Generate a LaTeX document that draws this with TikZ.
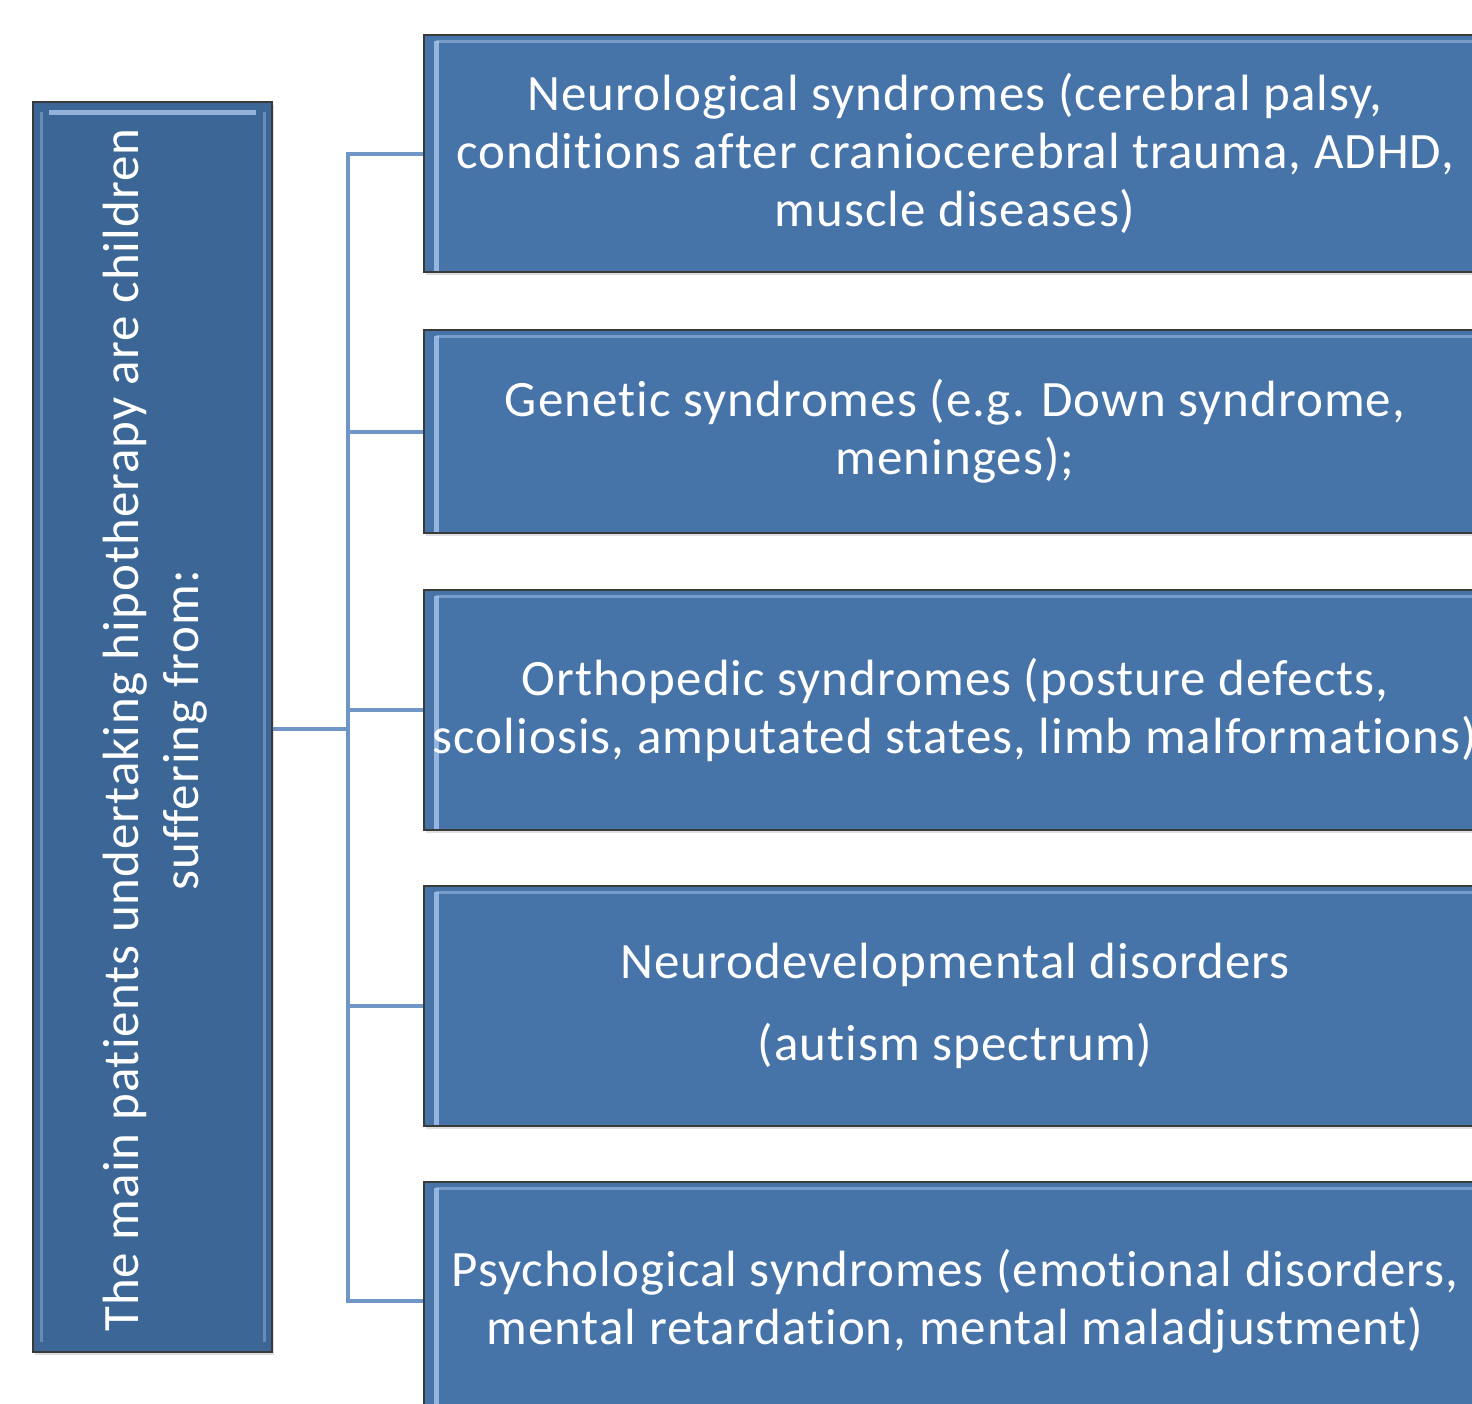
\documentclass[tikz,border=0pt]{standalone}
\usepackage{fontspec}
\setmainfont{Carlito}[LetterSpace=2, RawFeature={-liga}]
\usetikzlibrary{shadows}
\definecolor{boxblue}{HTML}{4673A8}
\definecolor{leftblue}{HTML}{3C6696}
\definecolor{linkblue}{HTML}{7096C8}
\definecolor{edgegray}{HTML}{3A3A3A}
\definecolor{hilite}{HTML}{A9C6EC}
\tikzset{
  bluebox/.style={draw=edgegray, line width=0.8pt, fill=boxblue, text=white,
    minimum width=531pt, inner sep=0pt, align=center,
    font=\fontsize{25.5}{29}\selectfont,
    drop shadow={opacity=0.25, shadow xshift=1pt, shadow yshift=-1.5pt},
    path picture={
      \draw[hilite, line width=2.5pt, opacity=0.8]
        ([xshift=6pt,yshift=-4pt]path picture bounding box.south west) --
        ([xshift=6pt,yshift=-3pt]path picture bounding box.north west);
      \draw[hilite, line width=1.5pt, opacity=0.5]
        ([xshift=6pt,yshift=-3pt]path picture bounding box.north west) --
        ([xshift=-6pt,yshift=-3pt]path picture bounding box.north east);
    }},
  leftbox/.style={draw=edgegray, line width=0.8pt, fill=leftblue, text=white,
    minimum width=119.5pt, minimum height=625pt, inner sep=0pt,
    drop shadow={opacity=0.25, shadow xshift=1pt, shadow yshift=-1.5pt},
    path picture={
      \draw[hilite, line width=2.5pt, opacity=0.8]
        ([xshift=8pt,yshift=-5pt]path picture bounding box.north west) --
        ([xshift=-8pt,yshift=-5pt]path picture bounding box.north east);
      \draw[hilite, line width=1.5pt, opacity=0.4]
        ([xshift=4pt,yshift=-5pt]path picture bounding box.north west) --
        ([xshift=4pt,yshift=5pt]path picture bounding box.south west);
      \draw[hilite, line width=1.5pt, opacity=0.4]
        ([xshift=-4pt,yshift=-5pt]path picture bounding box.north east) --
        ([xshift=-4pt,yshift=5pt]path picture bounding box.south east);
    }},
  link/.style={draw=linkblue, line width=2pt}
}
\begin{document}
\begin{tikzpicture}[x=0.5pt,y=-0.5pt]
\useasboundingbox (0,0) rectangle (1472,1403);
\clip (0,0) rectangle (1472,1403);

\node[leftbox] (L) at (152.5,727) {};
\node[rotate=90, text=white, align=center, font=\fontsize{25.5}{30}\selectfont] (Lt) at (155,730)
  {The main patients undertaking hipotherapy are children\\suffering from:};

\node[bluebox, minimum height=118.5pt] (b1) at (955,153.5)
  {Neurological syndromes (cerebral palsy,\\conditions after craniocerebral trauma, ADHD,\\muscle diseases)};
\node[bluebox, minimum height=101.5pt] (b2) at (955,431.5)
  {Genetic syndromes (e.g. Down syndrome,\\meninges);};
\node[bluebox, minimum height=120pt] (b3) at (955,710)
  {Orthopedic syndromes (posture defects,\\scoliosis, amputated states, limb malformations)};
\node[bluebox, minimum height=120pt] (b4) at (955,1006)
  {Neurodevelopmental disorders\\[12pt](autism spectrum)};
\node[bluebox, minimum height=119pt] (b5) at (955,1301)
  {Psychological syndromes (emotional disorders,\\mental retardation, mental maladjustment)};

\coordinate (hub) at (348,729);
\draw[link] (L.east |- hub) -- (hub);
\draw[link] (hub) |- (b1.west);
\draw[link] (hub) |- (b2.west);
\draw[link] (hub) |- (b3.west);
\draw[link] (hub) |- (b4.west);
\draw[link] (hub) |- (b5.west);
\end{tikzpicture}
\end{document}
